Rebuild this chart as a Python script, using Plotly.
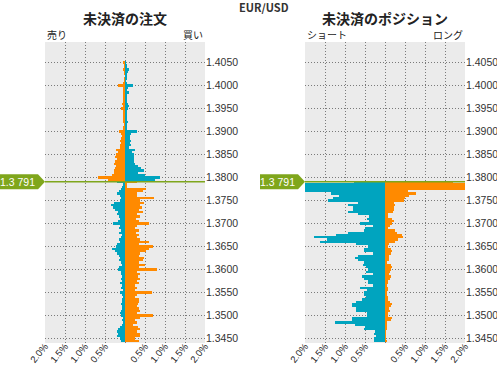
import plotly.graph_objects as go

# ---------------- data ----------------
current_price = 1.3791
current_label = "1.3 791"

# Open orders above the current price (1.4050 down to 1.3795, step 0.0005)
orders_above_start = 1.4050
orders_above_sell = [0.03, 0.01, 0.02, 0.03, 0.02, 0.01, 0.00, 0.01, 0.01, 0.05,
                     0.17, 0.05, 0.04, 0.05, 0.05, 0.06, 0.03, 0.05, 0.08, 0.06,
                     0.09, 0.03, 0.03, 0.04, 0.03, 0.05, 0.03, 0.02, 0.03, 0.04,
                     0.16, 0.09, 0.08, 0.11, 0.12, 0.11, 0.13, 0.13, 0.22, 0.18,
                     0.23, 0.24, 0.21, 0.24, 0.27, 0.23, 0.25, 0.28, 0.27, 0.32,
                     0.68, 0.43]
orders_above_buy = [0.01, 0.04, 0.03, 0.09, 0.07, 0.06, 0.05, 0.03, 0.02, 0.03,
                    0.19, 0.08, 0.05, 0.11, 0.06, 0.04, 0.03, 0.04, 0.08, 0.11,
                    0.07, 0.06, 0.05, 0.04, 0.06, 0.05, 0.07, 0.05, 0.04, 0.06,
                    0.31, 0.14, 0.12, 0.13, 0.15, 0.12, 0.14, 0.11, 0.25, 0.17,
                    0.22, 0.22, 0.22, 0.22, 0.25, 0.33, 0.40, 0.47, 0.33, 0.50,
                    0.88, 0.75]

# Open orders below the current price (1.3790 down to 1.3445)
orders_below_start = 1.3790
orders_below_sell = [0.19, 0.04, 0.07, 0.09, 0.14, 0.19, 0.12, 0.09, 0.12, 0.27,
                     0.34, 0.31, 0.26, 0.17, 0.21, 0.16, 0.13, 0.17, 0.29, 0.12,
                     0.14, 0.11, 0.16, 0.07, 0.09, 0.14, 0.12, 0.19, 0.22, 0.32,
                     0.24, 0.19, 0.16, 0.12, 0.14, 0.09, 0.07, 0.16, 0.17, 0.11,
                     0.09, 0.07, 0.11, 0.07, 0.12, 0.07, 0.09, 0.06, 0.12, 0.07,
                     0.06, 0.07, 0.07, 0.11, 0.07, 0.07, 0.09, 0.12, 0.11, 0.06,
                     0.07, 0.04, 0.08, 0.12, 0.17, 0.19, 0.17, 0.21, 0.12, 0.11]
orders_below_buy = [0.29, 0.06, 0.03, 0.52, 0.44, 0.31, 0.29, 0.72, 0.37, 0.47,
                    0.37, 0.42, 0.36, 0.44, 0.31, 0.37, 0.27, 0.35, 0.61, 0.29,
                    0.26, 0.34, 0.27, 0.34, 0.31, 0.37, 0.59, 0.34, 0.69, 0.61,
                    0.52, 0.37, 0.36, 0.47, 0.44, 0.36, 0.51, 0.34, 0.79, 0.29,
                    0.37, 0.32, 0.37, 0.29, 0.34, 0.26, 0.31, 0.25, 0.67, 0.29,
                    0.26, 0.36, 0.34, 0.32, 0.29, 0.36, 0.37, 0.31, 0.71, 0.37,
                    0.24, 0.29, 0.21, 0.33, 0.37, 0.31, 0.37, 0.37, 0.24, 0.36]

# Open positions (1.3790 down to 1.3445)
positions_start = 1.3790
positions_short = [0.78, 2.60, 2.80, 2.50, 2.30, 1.34, 1.15, 1.30, 1.42, 0.67,
                   0.92, 0.79, 0.79, 0.92, 0.67, 0.40, 0.45, 0.40, 0.62, 0.30,
                   0.50, 0.53, 0.92, 1.22, 1.77, 1.45, 1.62, 0.73, 0.43, 0.53,
                   0.52, 0.30, 0.67, 0.75, 0.67, 0.52, 0.55, 0.48, 0.43, 0.47,
                   0.30, 0.58, 0.52, 0.43, 0.43, 0.30, 0.63, 0.45, 0.53, 0.53,
                   0.47, 0.57, 0.73, 0.82, 0.82, 0.72, 0.72, 0.45, 0.45, 0.83,
                   0.83, 1.25, 0.75, 0.50, 0.53, 0.25, 0.27, 0.22, 0.27, 0.27]
positions_long = [1.69, 2.50, 2.70, 2.40, 0.58, 0.78, 0.60, 0.50, 0.48, 0.22,
                  0.25, 0.22, 0.22, 0.20, 0.08, 0.07, 0.18, 0.22, 0.17, 0.12,
                  0.07, 0.25, 0.30, 0.42, 0.45, 0.33, 0.25, 0.10, 0.07, 0.15,
                  0.18, 0.15, 0.10, 0.10, 0.10, 0.05, 0.15, 0.17, 0.15, 0.12,
                  0.10, 0.15, 0.12, 0.08, 0.07, 0.05, 0.08, 0.07, 0.05, 0.05,
                  0.07, 0.08, 0.12, 0.17, 0.15, 0.10, 0.13, 0.08, 0.07, 0.18,
                  0.15, 0.05, 0.03, 0.03, 0.03, 0.02, 0.02, 0.02, 0.02, 0.03]

price_step = 0.0005
x_tick_vals = [-2, -1.5, -1, -0.5, 0, 0.5, 1, 1.5, 2]
x_tick_text = ["2.0%", "1.5%", "1.0%", "0.5%", "", "0.5%", "1.0%", "1.5%", "2.0%"]
y_tick_vals = [1.3450, 1.3500, 1.3550, 1.3600, 1.3650, 1.3700, 1.3750,
               1.3800, 1.3850, 1.3900, 1.3950, 1.4000, 1.4050]
y_range = [1.34402, 1.40946]

# ---------------- style ----------------
ORANGE = "#ff8a00"
TEAL = "#00a4bf"
GREEN = "#7fa61c"
BG = "#ebebeb"
GRID = "#7a7a7a"
W, H = 497, 365


def levels(start, n):
    return [round(start - price_step * i, 4) for i in range(n)]


above_p = levels(orders_above_start, len(orders_above_sell))
below_p = levels(orders_below_start, len(orders_below_sell))
pos_p = levels(positions_start, len(positions_short))

fig = go.Figure()

# Left panel: orders
fig.add_trace(go.Bar(
    y=above_p + below_p,
    x=[-v for v in orders_above_sell] + [-v for v in orders_below_sell],
    orientation="h", width=price_step,
    marker=dict(color=[ORANGE] * len(above_p) + [TEAL] * len(below_p), line=dict(width=0)),
    xaxis="x", yaxis="y", showlegend=False, hoverinfo="skip"))
fig.add_trace(go.Bar(
    y=above_p + below_p,
    x=orders_above_buy + orders_below_buy,
    orientation="h", width=price_step,
    marker=dict(color=[TEAL] * len(above_p) + [ORANGE] * len(below_p), line=dict(width=0)),
    xaxis="x", yaxis="y", showlegend=False, hoverinfo="skip"))

# Right panel: positions
fig.add_trace(go.Bar(
    y=pos_p, x=[-v for v in positions_short], orientation="h", width=price_step,
    marker=dict(color=TEAL, line=dict(width=0)),
    xaxis="x2", yaxis="y2", showlegend=False, hoverinfo="skip"))
fig.add_trace(go.Bar(
    y=pos_p, x=positions_long, orientation="h", width=price_step,
    marker=dict(color=ORANGE, line=dict(width=0)),
    xaxis="x2", yaxis="y2", showlegend=False, hoverinfo="skip"))

left_dom = [45 / W, 205 / W]
right_dom = [305 / W, 465 / W]
y_dom = [(H - 343) / H, (H - 42) / H]

xcommon = dict(range=[-2, 2], tickvals=x_tick_vals, ticktext=x_tick_text,
               tickangle=-50, showgrid=True, gridcolor=GRID, griddash="1px,2px",
               gridwidth=1, zeroline=False, showline=False, ticks="",
               automargin=False, ticklabelstandoff=-5,
               tickfont=dict(size=9.5, color="#222"), fixedrange=True)
ycommon = dict(range=y_range, tickvals=y_tick_vals, tickformat=".4f",
               side="right", showgrid=True, gridcolor=GRID, griddash="1px,2px",
               gridwidth=1, zeroline=False, showline=False, ticks="",
               automargin=False,
               tickfont=dict(size=10.5, color="#333"), fixedrange=True)

fig.update_layout(
    width=W, height=H,
    margin=dict(l=0, r=0, t=0, b=0, autoexpand=False),
    paper_bgcolor="white", plot_bgcolor=BG,
    barmode="overlay", bargap=0,
    font=dict(family="Liberation Sans, Noto Sans CJK JP, sans-serif", color="#222"),
    xaxis=dict(domain=left_dom, anchor="y", **xcommon),
    yaxis=dict(domain=y_dom, anchor="x", **ycommon),
    xaxis2=dict(domain=right_dom, anchor="y2", **xcommon),
    yaxis2=dict(domain=y_dom, anchor="x2", **ycommon),
)

# current price line and arrow labels
for xr, yr in (("x", "y"), ("x2", "y2")):
    fig.add_shape(type="line", xref=f"{xr} domain", yref=yr, x0=0, x1=1,
                  y0=current_price, y1=current_price,
                  line=dict(color=GREEN, width=1.5), layer="above")
    fig.add_shape(type="path", xref=f"{xr} domain", yref=yr,
                  xsizemode="pixel", ysizemode="pixel",
                  xanchor=0, yanchor=current_price,
                  path="M -45,7.5 L -7,7.5 L 0,0 L -7,-7.5 L -45,-7.5 Z",
                  fillcolor=GREEN, line=dict(width=0), layer="above")
    fig.add_annotation(xref=f"{xr} domain", yref=yr, x=0, y=current_price,
                       xanchor="right", yanchor="middle", xshift=-8,
                       text=current_label, showarrow=False,
                       font=dict(size=10.5, color="white"))

def ptext(text, xpx, ypx, size, anchor="center", bold=False, color="#222"):
    fig.add_annotation(xref="paper", yref="paper", x=xpx / W, y=1 - ypx / H,
                       xanchor=anchor, yanchor="middle", showarrow=False,
                       text=f"<b>{text}</b>" if bold else text,
                       font=dict(size=size, color=color,
                                 family="Noto Sans CJK JP, Liberation Sans, sans-serif"))

ptext("EUR/USD", 264, 7, 11, bold=True, color="#333")
ptext("未決済の注文", 125, 18.5, 14, bold=True)
ptext("未決済のポジション", 385, 18.5, 14, bold=True)
ptext("売り", 45, 35, 10, anchor="left")
ptext("買い", 205, 35, 10, anchor="right")
ptext("ショート", 305, 35, 10, anchor="left")
ptext("ロング", 465, 35, 10, anchor="right")

fig.write_html("out.html", config={"displayModeBar": False},
               post_script="document.body.style.margin='0';document.body.style.overflow='hidden';")
